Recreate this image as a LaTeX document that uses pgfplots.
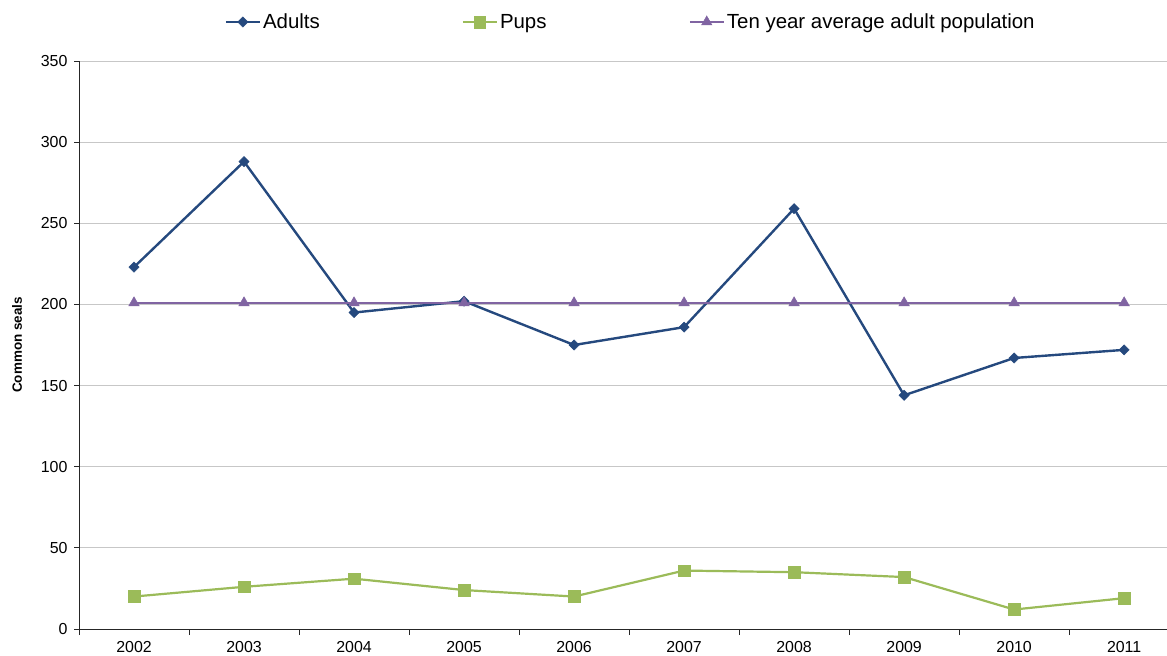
\documentclass[border=0pt]{standalone}
\usepackage{pgfplots}
\pgfplotsset{compat=1.18}
\usepackage{fontspec}
\setmainfont{Liberation Sans}
\definecolor{adultblue}{HTML}{25497E}
\definecolor{pupgreen}{HTML}{9BBB59}
\definecolor{avgpurple}{HTML}{8064A2}
\begin{document}
\begin{tikzpicture}
\path[use as bounding box] (0,0) rectangle (1167bp,656bp);
\begin{axis}[
  at={(79bp,27bp)}, anchor=south west, scale only axis,
  width=1088bp, height=568bp,
  xmin=-0.5, xmax=9.39, ymin=0, ymax=350,
  axis x line*=bottom, axis y line*=left,
  axis line style={-, black!85, line width=0.9pt},
  xtick={0,...,9},
  xticklabels={2002,2003,2004,2005,2006,2007,2008,2009,2010,2011},
  minor xtick={-0.5,0.5,...,8.5},
  major x tick style={draw=none},
  minor x tick style={black!85, line width=0.9pt},
  ytick={0,50,...,350},
  y tick style={black!85, line width=0.9pt},
  tick align=outside,
  major tick length=5bp, minor tick length=6bp,
  ymajorgrids, grid style={black!22, line width=0.9pt},
  tick label style={font=\fontsize{16}{19}\selectfont},
  xticklabel style={yshift=-4bp},
  yticklabel style={xshift=-3bp},
  /pgf/number format/assume math mode=true,
  ylabel={Common seals},
  every axis y label/.style={at={(axis description cs:-0.057,0.5)}, rotate=90, anchor=center, font=\fontsize{13.5}{15}\selectfont\bfseries},
  legend columns=3,
  legend cell align=left,
  legend style={draw=none, fill=none, at={(axis description cs:0.507,1.0687)}, anchor=center,
    font=\fontsize{20.5}{23}\selectfont,
    /tikz/every even column/.append style={column sep=140bp}},
  legend image code/.code={\draw[#1,mark repeat=2,mark phase=2] plot coordinates {(0cm,0cm) (0.6cm,0cm) (1.2cm,0cm)};},
]
\addplot[adultblue, line width=2.4bp, mark=square*, mark size=3.6bp, mark options={solid, rotate=45, line width=0.5bp}]
  coordinates {(0,223) (1,288) (2,195) (3,202) (4,175) (5,186) (6,259) (7,144) (8,167) (9,172)};
\addlegendentry{Adults}
\addplot[pupgreen, line width=2.2bp, mark=square*, mark size=5.8bp, mark options={solid, line width=0.5bp}]
  coordinates {(0,20) (1,26) (2,31) (3,24) (4,20) (5,36) (6,35) (7,32) (8,12) (9,19)};
\addlegendentry{Pups}
\addplot[avgpurple, line width=2.4bp, mark=triangle*, mark size=6bp, mark options={solid, line width=0.5bp}]
  coordinates {(0,201) (1,201) (2,201) (3,201) (4,201) (5,201) (6,201) (7,201) (8,201) (9,201)};
\addlegendentry{Ten year average adult population}
\end{axis}
\end{tikzpicture}
\end{document}
